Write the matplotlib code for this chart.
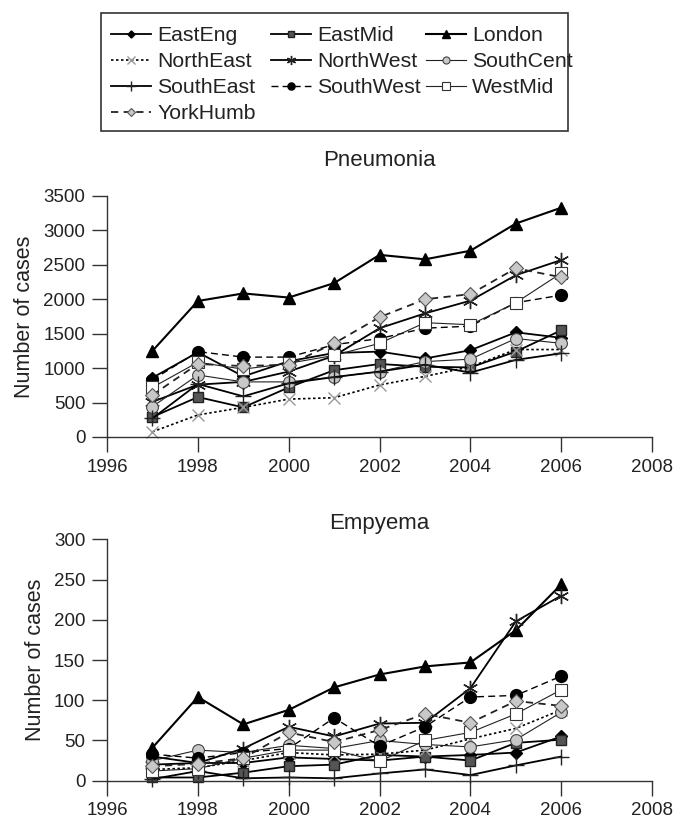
import matplotlib
matplotlib.use("Agg")
import matplotlib.pyplot as plt
from matplotlib.patches import Rectangle

plt.rcParams['font.family'] = ['Liberation Sans', 'DejaVu Sans']

years = [1997, 1998, 1999, 2000, 2001, 2002, 2003, 2004, 2005, 2006]
regions = ["EastEng", "EastMid", "London", "NorthEast", "NorthWest",
           "SouthCent", "SouthEast", "SouthWest", "WestMid", "YorkHumb"]

# Pneumonia cases
pn_EastEng   = [860, 1230, 880, 1100, 1220, 1240, 1140, 1260, 1520, 1440]
pn_EastMid   = [290, 580, 430, 720, 970, 1060, 1020, 1010, 1240, 1550]
pn_London    = [1250, 1975, 2085, 2025, 2235, 2645, 2580, 2705, 3100, 3330]
pn_NorthEast = [75, 320, 430, 550, 570, 755, 880, 1020, 1270, 1270]
pn_NorthWest = [510, 760, 800, 950, 1180, 1580, 1795, 1980, 2350, 2570]
pn_SouthCent = [440, 900, 800, 800, 870, 950, 1095, 1130, 1430, 1360]
pn_SouthEast = [270, 770, 590, 780, 870, 950, 1050, 935, 1120, 1215]
pn_SouthWest = [830, 1240, 1160, 1160, 1340, 1430, 1580, 1610, 1950, 2060]
pn_WestMid   = [720, 1085, 985, 1070, 1185, 1360, 1660, 1630, 1950, 2380]
pn_YorkHumb  = [610, 1060, 1030, 1050, 1360, 1740, 2000, 2075, 2450, 2320]

# Empyema cases
em_EastEng   = [30, 22, 22, 29, 27, 25, 30, 32, 35, 55]
em_EastMid   = [4, 4, 10, 18, 20, 32, 30, 25, 47, 51]
em_London    = [41, 104, 70, 88, 116, 132, 142, 147, 187, 244]
em_NorthEast = [14, 16, 25, 35, 32, 33, 38, 52, 65, 88]
em_NorthWest = [20, 22, 40, 67, 55, 71, 72, 115, 198, 230]
em_SouthCent = [25, 38, 35, 44, 40, 50, 45, 42, 51, 85]
em_SouthEast = [2, 12, 3, 4, 3, 9, 14, 7, 19, 30]
em_SouthWest = [33, 28, 35, 40, 78, 43, 67, 104, 106, 130]
em_WestMid   = [12, 15, 28, 38, 38, 24, 50, 60, 83, 113]
em_YorkHumb  = [18, 21, 28, 60, 48, 63, 83, 72, 99, 93]

pneumonia = [pn_EastEng, pn_EastMid, pn_London, pn_NorthEast, pn_NorthWest,
             pn_SouthCent, pn_SouthEast, pn_SouthWest, pn_WestMid, pn_YorkHumb]
empyema = [em_EastEng, em_EastMid, em_London, em_NorthEast, em_NorthWest,
           em_SouthCent, em_SouthEast, em_SouthWest, em_WestMid, em_YorkHumb]

styles = {
    "EastEng":   dict(color='black', ls='-', lw=1.3, marker='D', ms=6, mfc='black', mec='black'),
    "EastMid":   dict(color='black', ls='-', lw=1.3, marker='s', ms=7.5, mfc='#555555', mec='#222222'),
    "London":    dict(color='black', ls='-', lw=1.5, marker='^', ms=8.5, mfc='black', mec='black'),
    "NorthEast": dict(color='black', ls=(0, (1.5, 1.5)), lw=1.2, marker='x', ms=8.5, mfc='none', mec='#999999', mew=1.0),
    "NorthWest": dict(color='black', ls='-', lw=1.3, marker=(6, 2, 0), ms=11, mfc='none', mec='#222222', mew=1.0),
    "SouthCent": dict(color='#222222', ls='-', lw=0.8, marker='o', ms=8.5, mfc='#c8c8c8', mec='#444444', mew=0.8),
    "SouthEast": dict(color='black', ls='-', lw=1.3, marker='+', ms=11, mfc='none', mec='#222222', mew=1.0),
    "SouthWest": dict(color='black', ls=(0, (5, 3)), lw=1.0, marker='o', ms=8.5, mfc='black', mec='black'),
    "WestMid":   dict(color='#222222', ls='-', lw=0.8, marker='s', ms=8.5, mfc='white', mec='#333333', mew=0.8),
    "YorkHumb":  dict(color='#222222', ls=(0, (4, 3)), lw=1.3, marker='D', ms=7.5, mfc='#c8c8c8', mec='#555555', mew=0.8),
}

fig = plt.figure(figsize=(6.73, 8.18), dpi=100)
ax1 = fig.add_axes([0.159, 0.4658, 0.810, 0.2946])
ax2 = fig.add_axes([0.159, 0.0456, 0.810, 0.2951])

def style_axes(ax, ymax, ystep):
    ax.set_xlim(1996, 2008)
    ax.set_ylim(0, ymax)
    ax.set_xticks(range(1996, 2009, 2))
    ax.set_yticks(range(0, ymax + 1, ystep))
    for s in ['top', 'right']:
        ax.spines[s].set_visible(False)
    for s in ['left', 'bottom']:
        ax.spines[s].set_color('#333333')
        ax.spines[s].set_linewidth(1.0)
    ax.tick_params(axis='both', direction='out', length=10.5, width=1.0,
                   color='#333333', labelsize=13.5, labelcolor='#222222')
    ax.tick_params(axis='y', pad=5)
    ax.tick_params(axis='x', pad=5)
    ax.set_ylabel("Number of cases", fontsize=15.5, color='#222222', labelpad=6)

handles = {}
for name, vals in zip(regions, pneumonia):
    st = styles[name]
    ln, = ax1.plot(years, vals, color=st['color'], linestyle=st['ls'], linewidth=st['lw'],
                   marker=st['marker'], markersize=st['ms'], markerfacecolor=st['mfc'],
                   markeredgecolor=st['mec'], markeredgewidth=st.get('mew', 1.0),
                   label=name, clip_on=False)
    handles[name] = ln
for name, vals in zip(regions, empyema):
    st = styles[name]
    ax2.plot(years, vals, color=st['color'], linestyle=st['ls'], linewidth=st['lw'],
             marker=st['marker'], markersize=st['ms'], markerfacecolor=st['mfc'],
             markeredgecolor=st['mec'], markeredgewidth=st.get('mew', 1.0), clip_on=False)

style_axes(ax1, 3500, 500)
style_axes(ax2, 300, 50)

fig.text(0.564, 1 - 160 / 818, "Pneumonia", ha='center', va='center', fontsize=16, color='#222222')
fig.text(0.564, 1 - 523 / 818, "Empyema", ha='center', va='center', fontsize=16, color='#222222')

# Legend: three single-column legends inside a drawn frame
columns = [["EastEng", "NorthEast", "SouthEast", "YorkHumb"],
           ["EastMid", "NorthWest", "SouthWest"],
           ["London", "SouthCent", "WestMid"]]
col_x = [111, 271, 426]
W, H = 673, 818
for names, x in zip(columns, col_x):
    lg = fig.legend([handles[n] for n in names], names, ncol=1,
                    loc='upper left', bbox_to_anchor=(x / W, 1 - 26 / H),
                    fontsize=15.3, frameon=False,
                    handlelength=1.9, handletextpad=0.28,
                    labelspacing=0.33, borderpad=0, markerscale=0.6, borderaxespad=0)
    for t in lg.get_texts():
        t.set_color('#222222')

fig.add_artist(Rectangle((101 / W, 1 - 131 / H), (568 - 101) / W, (131 - 13) / H,
                         transform=fig.transFigure, fill=False, edgecolor='#333333', linewidth=1.2))

fig.savefig("out.png", dpi=100)
